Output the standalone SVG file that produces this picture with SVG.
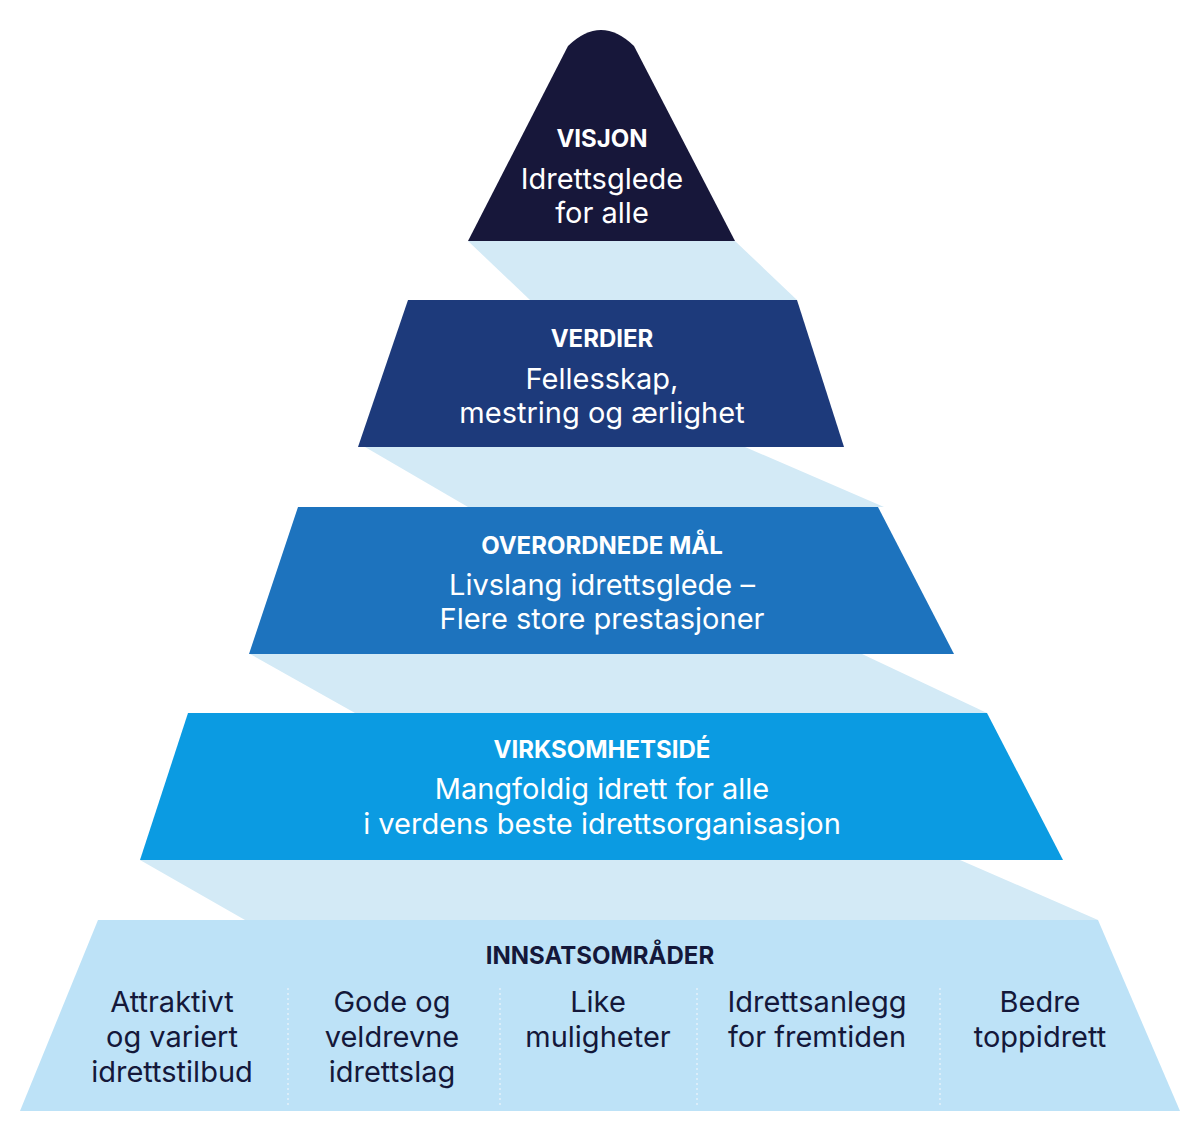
<svg xmlns="http://www.w3.org/2000/svg" width="1200" height="1121" viewBox="0 0 1200 1121">
<style>
text{font-family:Inter,"Noto Sans","Liberation Sans",sans-serif;text-anchor:middle}
.h{font-weight:700;font-size:24px;fill:#fff}
.b{font-size:29px;fill:#fff}
.hd{font-weight:700;font-size:24px;fill:#14183a}
.bd{font-size:29px;fill:#14183a}
.rib{fill:#d3eaf6}
.div{stroke:#e3f1fa;stroke-width:1.5;stroke-dasharray:2 3}
</style>
<rect width="1200" height="1121" fill="#fff"/>
<g id="connectors">
<polygon class="rib" points="468,241 735,241 797,300 530,300"/>
<polygon class="rib" points="365,447 745,447 884,507 468,507"/>
<polygon class="rib" points="250,654 862,654 987,713 355,713"/>
<polygon class="rib" points="140,860 960,860 1098,920 245,920"/>
</g>
<g id="visjon">
<path d="M468,241 L568,46 Q601,14 634,46 L735,241 Z" fill="#17173a"/>
<text class="h" x="602" y="147">VISJON</text>
<text class="b" x="602" y="189">Idrettsglede</text>
<text class="b" x="602" y="223">for alle</text>
</g>
<g id="verdier">
<polygon points="408,300 797,300 844,447 358,447" fill="#1d3a7b"/>
<text class="h" x="602" y="347">VERDIER</text>
<text class="b" x="602" y="389">Fellesskap,</text>
<text class="b" x="602" y="423">mestring og ærlighet</text>
</g>
<g id="overordnede">
<polygon points="298,507 878,507 954,654 249,654" fill="#1d73be"/>
<text class="h" x="602" y="554">OVERORDNEDE MÅL</text>
<text class="b" x="602" y="595">Livslang idrettsglede –</text>
<text class="b" x="602" y="629">Flere store prestasjoner</text>
</g>
<g id="virksomhetside">
<polygon points="188,713 987,713 1063,860 140,860" fill="#0b9be2"/>
<text class="h" x="602" y="758">VIRKSOMHETSIDÉ</text>
<text class="b" x="602" y="799">Mangfoldig idrett for alle</text>
<text class="b" x="602" y="834">i verdens beste idrettsorganisasjon</text>
</g>
<g id="innsatsomrader">
<polygon points="98,920 1098,920 1180,1111 20,1111" fill="#bde2f7"/>
<text class="hd" x="600" y="964">INNSATSOMRÅDER</text>
<line class="div" x1="288" y1="988" x2="288" y2="1108"/>
<line class="div" x1="500" y1="988" x2="500" y2="1108"/>
<line class="div" x1="697" y1="988" x2="697" y2="1108"/>
<line class="div" x1="940" y1="988" x2="940" y2="1108"/>
<text class="bd" x="172" y="1012">Attraktivt</text>
<text class="bd" x="172" y="1047">og variert</text>
<text class="bd" x="172" y="1082">idrettstilbud</text>
<text class="bd" x="392" y="1012">Gode og</text>
<text class="bd" x="392" y="1047">veldrevne</text>
<text class="bd" x="392" y="1082">idrettslag</text>
<text class="bd" x="598" y="1012">Like</text>
<text class="bd" x="598" y="1047">muligheter</text>
<text class="bd" x="817" y="1012">Idrettsanlegg</text>
<text class="bd" x="817" y="1047">for fremtiden</text>
<text class="bd" x="1040" y="1012">Bedre</text>
<text class="bd" x="1040" y="1047">toppidrett</text>
</g>
</svg>
